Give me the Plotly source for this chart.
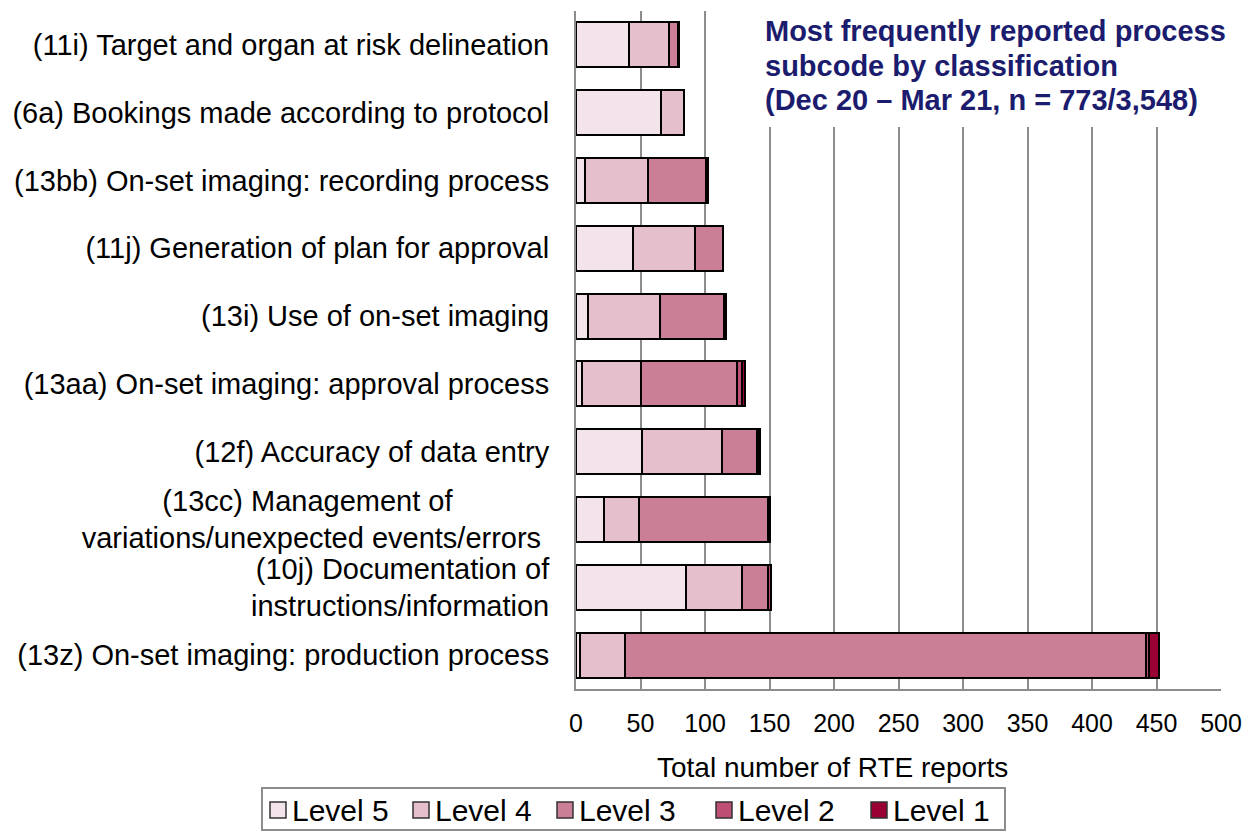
import plotly.graph_objects as go

NB = "\u00a0"
categories = [
    "(11i) Target and organ at risk delineation",
    "(6a) Bookings made according to protocol",
    "(13bb) On-set imaging: recording process",
    "(11j) Generation of plan for approval",
    "(13i) Use of on-set imaging",
    "(13aa) On-set imaging: approval process",
    "(12f) Accuracy of data entry",
    "(13cc) Management of" + NB * 12 + "<br>variations/unexpected events/errors" + NB,
    "(10j) Documentation of<br>instructions/information",
    "(13z) On-set imaging: production process",
]
level5 = [41, 66, 7, 44, 9, 5, 51, 22, 85, 3]
level4 = [31, 18, 49, 48, 56, 45, 62, 27, 44, 35]
level3 = [7, 0, 45, 22, 50, 75, 27, 100, 20, 404]
level2 = [1, 0, 1, 0, 1, 4, 2, 1, 2, 2]
level1 = [0, 0, 0, 0, 0, 2, 1, 0, 0, 8]

series_names = ["Level 5", "Level 4", "Level 3", "Level 2", "Level 1"]
series_values = [level5, level4, level3, level2, level1]
series_colors = ["#F2E4EA", "#E6BFCC", "#CB7F96", "#BE4E73", "#990033"]
x_ticks = [0, 50, 100, 150, 200, 250, 300, 350, 400, 450, 500]
title_lines = [
    "Most frequently reported process",
    "subcode by classification",
    "(Dec 20 \u2013 Mar 21, n = 773/3,548)",
]

FONT = "Liberation Sans, Arial, sans-serif"

fig = go.Figure()
for name, vals, col in zip(series_names, series_values, series_colors):
    fig.add_trace(go.Bar(
        y=categories, x=vals, name=name, orientation="h", showlegend=False,
        marker=dict(color=col, line=dict(color="black", width=2)),
    ))

W, H = 1247, 832
L, R, T, B = 576, 26, 11, 143

# picture pixel -> paper coords (plot area 576..1221 x 11..689)
def px(xp):
    return (xp - L) / (W - L - R)

def py(yp):
    return (H - B - yp) / (H - T - B)

annotations = [
    dict(text="Total number of RTE reports", xref="paper", yref="paper",
         x=px(832), y=py(767), xanchor="center", yanchor="middle",
         showarrow=False, font=dict(size=28)),
]
for i, t in enumerate(title_lines):
    annotations.append(dict(
        text="<b>" + t + "</b>", xref="paper", yref="paper",
        x=px(763), y=py(31 + i * 34.5), xanchor="left", yanchor="middle",
        showarrow=False, font=dict(size=29, color="#1C1C6E"),
    ))

shapes = [
    # white panel behind the title (hides gridlines)
    dict(type="rect", xref="paper", yref="paper",
         x0=px(752), x1=px(1247), y0=py(127), y1=py(0),
         fillcolor="white", line=dict(width=0), layer="above"),
    # legend frame
    dict(type="rect", xref="paper", yref="paper",
         x0=px(262), x1=px(1005), y0=py(830), y1=py(788),
         fillcolor="white", line=dict(color="#8C8C8C", width=2), layer="above"),
]

# manual legend entries
legend_left = [270, 413, 557, 716, 871]
for name, col, lx in zip(series_names, series_colors, legend_left):
    shapes.append(dict(type="rect", xref="paper", yref="paper",
                       x0=px(lx), x1=px(lx + 16), y0=py(818), y1=py(802),
                       fillcolor=col, line=dict(color="#333333", width=1.5),
                       layer="above"))
    annotations.append(dict(text=name, xref="paper", yref="paper",
                            x=px(lx + 20), y=py(810), xanchor="left",
                            yanchor="middle", showarrow=False,
                            font=dict(size=30)))

fig.update_layout(
    width=W, height=H,
    barmode="stack", bargap=0.335,
    margin=dict(l=L, r=R, t=T, b=B, autoexpand=False),
    paper_bgcolor="white", plot_bgcolor="white",
    font=dict(family=FONT, color="black", size=25),
    xaxis=dict(
        range=[0, 500], tickvals=x_ticks, ticks="",
        showgrid=True, gridcolor="#8C8C8C", gridwidth=2,
        showline=True, linecolor="#8C8C8C", linewidth=2,
        zeroline=False, tickfont=dict(size=25), ticklabelstandoff=11,
    ),
    yaxis=dict(
        autorange="reversed", ticks="",
        showline=True, linecolor="#8C8C8C", linewidth=2,
        showgrid=False, tickfont=dict(size=29), ticklabelstandoff=19,
    ),
    showlegend=False,
    shapes=shapes,
    annotations=annotations,
)

fig.write_html("out.html", config={"displayModeBar": False},
               post_script="document.body.style.margin='0';")
